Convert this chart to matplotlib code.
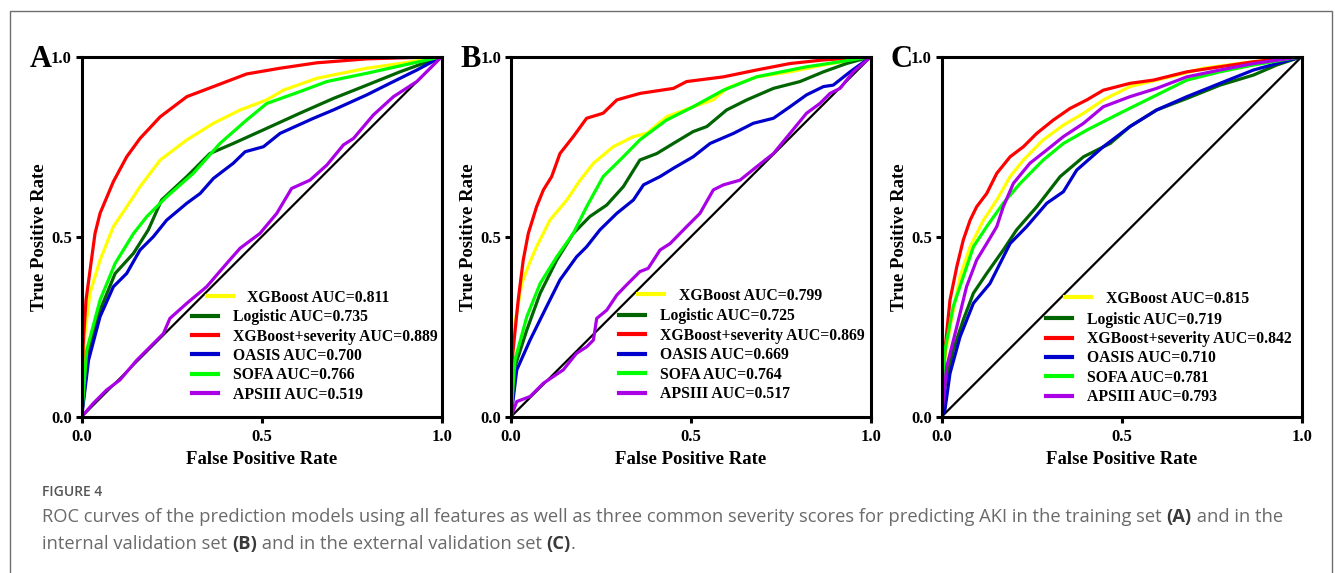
import matplotlib
matplotlib.use("Agg")
import matplotlib.pyplot as plt
from matplotlib.patches import Rectangle

# ------------------------------------------------------------
# data
# ------------------------------------------------------------
MODELS = ["XGBoost", "Logistic", "XGBoost+severity", "OASIS", "SOFA", "APSIII"]
COLORS = ["#FFFF00", "#006400", "#FF0000", "#0000CC", "#00FF00", "#AA00E6"]
PANELS = ["A", "B", "C"]

AUC_A = [0.811, 0.735, 0.889, 0.700, 0.766, 0.519]
AUC_B = [0.799, 0.725, 0.869, 0.669, 0.764, 0.517]
AUC_C = [0.815, 0.719, 0.842, 0.710, 0.781, 0.793]

# panel A: training set
a_xgb_fpr = [0, 0.009, 0.023, 0.051, 0.088, 0.125, 0.162, 0.218, 0.292, 0.366, 0.44, 0.514, 0.56, 0.653, 0.792, 0.884, 1]
a_xgb_tpr = [0, 0.231, 0.343, 0.435, 0.528, 0.583, 0.639, 0.713, 0.769, 0.815, 0.852, 0.880, 0.907, 0.94, 0.968, 0.981, 1]
a_log_fpr = [0, 0.014, 0.051, 0.093, 0.144, 0.185, 0.222, 0.292, 0.356, 0.421, 0.514, 0.606, 0.699, 0.792, 0.884, 1]
a_log_tpr = [0, 0.157, 0.296, 0.398, 0.454, 0.519, 0.602, 0.667, 0.731, 0.759, 0.801, 0.843, 0.884, 0.921, 0.958, 1]
a_sev_fpr = [0, 0.004, 0.012, 0.037, 0.051, 0.088, 0.125, 0.162, 0.218, 0.292, 0.366, 0.458, 0.551, 0.653, 0.792, 1]
a_sev_tpr = [0, 0.2, 0.324, 0.509, 0.565, 0.653, 0.722, 0.773, 0.833, 0.889, 0.917, 0.952, 0.968, 0.983, 0.994, 1]
a_oas_fpr = [0, 0.019, 0.051, 0.088, 0.125, 0.162, 0.199, 0.236, 0.292, 0.329, 0.366, 0.421, 0.454, 0.505, 0.551, 0.644, 0.699, 0.792, 0.856, 0.931, 1]
a_oas_tpr = [0, 0.157, 0.278, 0.361, 0.398, 0.463, 0.5, 0.546, 0.593, 0.62, 0.662, 0.704, 0.736, 0.75, 0.787, 0.829, 0.852, 0.894, 0.926, 0.963, 1]
a_sofa_fpr = [0, 0.014, 0.051, 0.093, 0.144, 0.181, 0.236, 0.31, 0.384, 0.458, 0.514, 0.606, 0.681, 0.792, 1]
a_sofa_tpr = [0, 0.185, 0.324, 0.426, 0.509, 0.556, 0.611, 0.676, 0.759, 0.824, 0.870, 0.903, 0.931, 0.954, 1]
a_aps_fpr = [0, 0.032, 0.069, 0.106, 0.153, 0.227, 0.245, 0.292, 0.347, 0.403, 0.44, 0.495, 0.542, 0.583, 0.634, 0.681, 0.727, 0.755, 0.81, 0.866, 0.931, 1]
a_aps_tpr = [0, 0.037, 0.074, 0.102, 0.157, 0.231, 0.273, 0.315, 0.361, 0.426, 0.468, 0.509, 0.565, 0.634, 0.657, 0.699, 0.755, 0.773, 0.838, 0.889, 0.931, 1]

# panel B: internal validation set
b_xgb_fpr = [0, 0.006, 0.03, 0.051, 0.071, 0.108, 0.155, 0.192, 0.229, 0.284, 0.34, 0.377, 0.432, 0.506, 0.562, 0.599, 0.682, 0.775, 0.868, 1]
b_xgb_tpr = [0, 0.231, 0.37, 0.426, 0.472, 0.546, 0.602, 0.657, 0.704, 0.75, 0.778, 0.787, 0.833, 0.861, 0.88, 0.912, 0.944, 0.958, 0.977, 1]
b_log_fpr = [0, 0.011, 0.044, 0.081, 0.127, 0.173, 0.219, 0.266, 0.312, 0.358, 0.405, 0.451, 0.506, 0.544, 0.599, 0.655, 0.729, 0.803, 0.868, 0.932, 1]
b_log_tpr = [0, 0.139, 0.241, 0.343, 0.435, 0.509, 0.556, 0.588, 0.639, 0.713, 0.731, 0.759, 0.792, 0.806, 0.852, 0.88, 0.912, 0.931, 0.958, 0.981, 1]
b_sev_fpr = [0, 0.005, 0.02, 0.034, 0.048, 0.071, 0.09, 0.113, 0.136, 0.173, 0.21, 0.256, 0.294, 0.358, 0.451, 0.488, 0.59, 0.682, 0.775, 0.868, 1]
b_sev_tpr = [0, 0.176, 0.324, 0.435, 0.509, 0.583, 0.63, 0.667, 0.731, 0.778, 0.829, 0.843, 0.88, 0.898, 0.912, 0.931, 0.944, 0.963, 0.981, 0.991, 1]
b_oas_fpr = [0, 0.016, 0.053, 0.099, 0.136, 0.182, 0.21, 0.247, 0.294, 0.34, 0.368, 0.414, 0.451, 0.506, 0.553, 0.618, 0.673, 0.729, 0.775, 0.821, 0.868, 0.895, 0.942, 1]
b_oas_tpr = [0, 0.13, 0.213, 0.306, 0.38, 0.444, 0.472, 0.519, 0.565, 0.602, 0.644, 0.667, 0.69, 0.722, 0.759, 0.787, 0.815, 0.829, 0.861, 0.894, 0.917, 0.921, 0.958, 1]
b_sofa_fpr = [0, 0.011, 0.044, 0.081, 0.127, 0.173, 0.21, 0.256, 0.312, 0.358, 0.432, 0.506, 0.59, 0.682, 0.821, 0.914, 1]
b_sofa_tpr = [0, 0.157, 0.278, 0.37, 0.444, 0.509, 0.583, 0.667, 0.722, 0.769, 0.824, 0.861, 0.907, 0.944, 0.972, 0.986, 1]
b_aps_fpr = [0, 0.016, 0.053, 0.09, 0.145, 0.182, 0.21, 0.229, 0.238, 0.266, 0.294, 0.321, 0.358, 0.381, 0.414, 0.442, 0.488, 0.525, 0.562, 0.59, 0.636, 0.682, 0.729, 0.775, 0.821, 0.858, 0.886, 0.914, 0.951, 1]
b_aps_tpr = [0, 0.042, 0.056, 0.093, 0.13, 0.176, 0.194, 0.213, 0.273, 0.296, 0.338, 0.366, 0.403, 0.412, 0.463, 0.481, 0.528, 0.565, 0.63, 0.644, 0.657, 0.694, 0.731, 0.787, 0.843, 0.87, 0.898, 0.912, 0.958, 1]

# panel C: external validation set
c_xgb_fpr = [0, 0.005, 0.023, 0.051, 0.079, 0.116, 0.153, 0.19, 0.227, 0.282, 0.338, 0.394, 0.449, 0.523, 0.634, 0.727, 0.866, 1]
c_xgb_tpr = [0, 0.139, 0.25, 0.389, 0.472, 0.546, 0.602, 0.667, 0.713, 0.769, 0.81, 0.843, 0.88, 0.917, 0.944, 0.968, 0.986, 1]
c_log_fpr = [0, 0.009, 0.032, 0.06, 0.088, 0.125, 0.171, 0.208, 0.264, 0.329, 0.394, 0.468, 0.523, 0.597, 0.681, 0.773, 0.866, 0.931, 1]
c_log_tpr = [0, 0.083, 0.185, 0.269, 0.343, 0.398, 0.463, 0.519, 0.583, 0.667, 0.722, 0.759, 0.806, 0.852, 0.884, 0.921, 0.949, 0.977, 1]
c_sev_fpr = [0, 0.003, 0.009, 0.023, 0.042, 0.06, 0.079, 0.097, 0.125, 0.153, 0.19, 0.227, 0.264, 0.31, 0.356, 0.403, 0.449, 0.523, 0.588, 0.681, 0.773, 0.866, 1]
c_sev_tpr = [0, 0.093, 0.185, 0.324, 0.417, 0.491, 0.546, 0.583, 0.62, 0.676, 0.722, 0.75, 0.787, 0.824, 0.856, 0.88, 0.907, 0.926, 0.935, 0.958, 0.972, 0.986, 1]
c_oas_fpr = [0, 0.009, 0.023, 0.051, 0.088, 0.134, 0.19, 0.236, 0.292, 0.338, 0.375, 0.449, 0.523, 0.597, 0.681, 0.773, 0.866, 1]
c_oas_tpr = [0, 0.019, 0.12, 0.222, 0.315, 0.37, 0.481, 0.528, 0.593, 0.625, 0.685, 0.75, 0.806, 0.852, 0.889, 0.926, 0.963, 1]
c_sofa_fpr = [0, 0.009, 0.032, 0.06, 0.088, 0.125, 0.171, 0.218, 0.282, 0.338, 0.403, 0.495, 0.588, 0.681, 0.773, 0.866, 1]
c_sofa_tpr = [0, 0.185, 0.306, 0.389, 0.472, 0.528, 0.593, 0.648, 0.713, 0.759, 0.796, 0.843, 0.889, 0.935, 0.958, 0.977, 1]
c_aps_fpr = [0, 0.014, 0.042, 0.069, 0.097, 0.125, 0.153, 0.171, 0.199, 0.245, 0.292, 0.338, 0.394, 0.449, 0.523, 0.597, 0.681, 0.773, 0.866, 1]
c_aps_tpr = [0, 0.139, 0.25, 0.361, 0.435, 0.481, 0.528, 0.583, 0.648, 0.704, 0.741, 0.778, 0.815, 0.861, 0.889, 0.912, 0.944, 0.963, 0.981, 1]

CURVES = {
    "A": [(a_xgb_fpr, a_xgb_tpr), (a_log_fpr, a_log_tpr), (a_sev_fpr, a_sev_tpr),
          (a_oas_fpr, a_oas_tpr), (a_sofa_fpr, a_sofa_tpr), (a_aps_fpr, a_aps_tpr)],
    "B": [(b_xgb_fpr, b_xgb_tpr), (b_log_fpr, b_log_tpr), (b_sev_fpr, b_sev_tpr),
          (b_oas_fpr, b_oas_tpr), (b_sofa_fpr, b_sofa_tpr), (b_aps_fpr, b_aps_tpr)],
    "C": [(c_xgb_fpr, c_xgb_tpr), (c_log_fpr, c_log_tpr), (c_sev_fpr, c_sev_tpr),
          (c_oas_fpr, c_oas_tpr), (c_sofa_fpr, c_sofa_tpr), (c_aps_fpr, c_aps_tpr)],
}
AUCS = {"A": AUC_A, "B": AUC_B, "C": AUC_C}

# ------------------------------------------------------------
# layout (pixels of a 1335x573 canvas)
# ------------------------------------------------------------
W, H = 1335, 573
AX_LEFT = {"A": 81.7, "B": 511.0, "C": 941.7}
AX_TOP, AX_SIZE = 56.7, 360.0
LETTER_X = {"A": 30, "B": 460, "C": 891}
# legend anchors in axes fraction: (x first row, x other rows, y first, y others)
LEG_POS = {"A": (0.347, 0.306, 0.331, 0.271),
           "B": (0.354, 0.300, 0.336, 0.273),
           "C": (0.343, 0.289, 0.327, 0.264)}

plt.rcParams["font.family"] = ["Liberation Serif", "DejaVu Serif"]
plt.rcParams["font.weight"] = "bold"

fig = plt.figure(figsize=(W / 100, H / 100), dpi=100)

# outer frame of the figure box
fig.patches.append(Rectangle((10 / W, -0.05), 1322 / W, 1.05 - 11 / H,
                             transform=fig.transFigure, fill=False,
                             edgecolor="#6e6e6e", linewidth=1.0))

for p in PANELS:
    ax = fig.add_axes([AX_LEFT[p] / W, 1 - (AX_TOP + AX_SIZE) / H, AX_SIZE / W, AX_SIZE / H])
    ax.plot([0, 1], [0, 1], color="black", lw=1.6, zorder=1)
    lines = []
    for (fpr, tpr), col in zip(CURVES[p], COLORS):
        ln, = ax.plot(fpr, tpr, color=col, lw=2.3, solid_joinstyle="round", zorder=2)
        lines.append(ln)
    ax.set_xlim(0, 1)
    ax.set_ylim(0, 1)
    ax.set_xticks([0, 0.5, 1.0])
    ax.set_yticks([0, 0.5, 1.0])
    ax.set_xticklabels(["0.0", "0.5", "1.0"])
    ax.set_yticklabels(["0.0", "0.5", "1.0"])
    ax.tick_params(direction="out", length=4, width=2.2, labelsize=12, pad=3)
    ax.tick_params(axis="x", pad=5)
    for s in ax.spines.values():
        s.set_linewidth(2.2)
    ax.set_xlabel("False Positive Rate", fontsize=13.5, fontweight="bold")
    ax.set_ylabel("True Positive Rate", fontsize=13.5, fontweight="bold")
    ax.xaxis.set_label_coords(0.5, -0.095)
    ax.yaxis.set_label_coords(-0.095, 0.5)

    labels = [f"{m} AUC={a:.3f}" for m, a in zip(MODELS, AUCS[p])]
    x1, x2, y1, y2 = LEG_POS[p]
    common = dict(frameon=False, fontsize=11.3, handlelength=1.65, handletextpad=0.95,
                  labelspacing=0.22, borderpad=0, borderaxespad=0)
    leg1 = ax.legend(lines[:1], labels[:1], loc="center left",
                     bbox_to_anchor=(x1, y1), **common)
    ax.add_artist(leg1)
    leg2 = ax.legend(lines[1:], labels[1:], loc="upper left",
                     bbox_to_anchor=(x2, y2 + 0.028), **common)
    for lg in (leg1, leg2):
        for h in lg.get_lines():
            h.set_linewidth(3.0)

    fig.text(LETTER_X[p] / W, 1 - 67 / H, p, fontsize=22, fontweight="bold",
             ha="left", va="baseline")

# ------------------------------------------------------------
# caption
# ------------------------------------------------------------
CAP_FONT = ["Open Sans", "DejaVu Sans"]
fig.text(42 / W, 1 - 492 / H, "FIGURE 4", family=CAP_FONT, fontsize=10,
         fontweight="semibold", color="#555555", va="center", ha="left")

line1 = [("ROC curves of the prediction models using all features as well as three common "
          "severity scores for predicting AKI in the training set ", False),
         ("(A)", True), (" and in the", False)]
line2 = [("internal validation set ", False), ("(B)", True),
         (" and in the external validation set ", False), ("(C)", True), (".", False)]

renderer = fig.canvas.get_renderer()
cap_size = 13.2


def draw_line(parts, y_px, size):
    x = 42.0
    for txt, bold in parts:
        t = fig.text(x / W, 1 - y_px / H, txt, family=CAP_FONT, fontsize=size,
                     fontweight="bold" if bold else "normal",
                     color="#3a3a3a" if bold else "#6a6a6a", va="baseline", ha="left")
        bb = t.get_window_extent(renderer=renderer)
        x += bb.width
    return x


draw_line(line1, 522, cap_size)
draw_line(line2, 549, cap_size)

fig.savefig("out.png", dpi=100)
